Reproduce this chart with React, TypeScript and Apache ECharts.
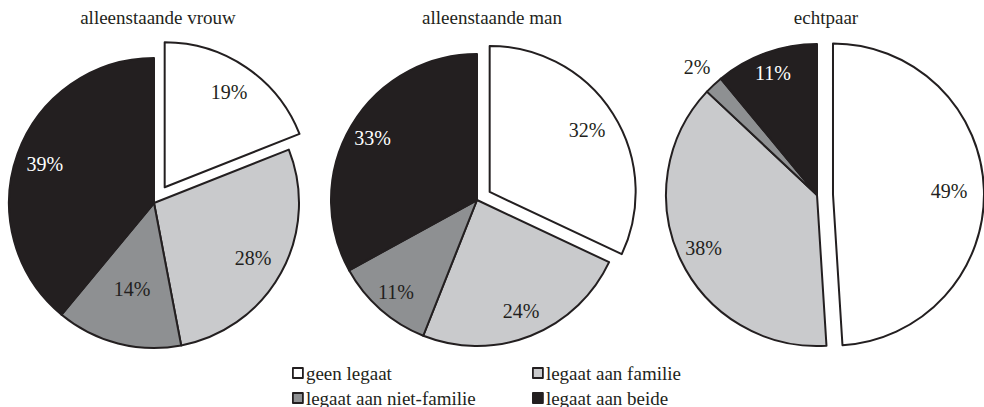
import React, { useEffect, useRef } from 'react';
import * as echarts from 'echarts';

const categories = ['geen legaat', 'legaat aan familie', 'legaat aan niet-familie', 'legaat aan beide'];
const groupTitles = ['alleenstaande vrouw', 'alleenstaande man', 'echtpaar'];
const vrouwValues = [19, 28, 14, 39];
const manValues = [32, 24, 11, 33];
const echtpaarValues = [49, 38, 2, 11];
const legendColumn1 = ['geen legaat', 'legaat aan niet-familie'];
const legendColumn2 = ['legaat aan familie', 'legaat aan beide'];

const COLORS = ['#ffffff', '#c9cacc', '#8e9092', '#231f20'];
const LABEL_COLORS = ['#231f20', '#231f20', '#231f20', '#ffffff'];
const INK = '#231f20';
const FONT = "'Liberation Serif', 'DejaVu Serif', serif";

const PIES = [
  { values: vrouwValues, center: [154, 203], r: 145, offset: 19, titleX: 158, labelR: [0.77, 0.76, 0.59, 0.78] },
  { values: manValues, center: [477, 200], r: 146, offset: 15, titleX: 492, labelR: [0.77, 0.8, 0.82, 0.81] },
  { values: echtpaarValues, center: [817, 195], r: 151, offset: 16, titleX: 826, labelR: [0.75, 0.81, 1.14, 0.84] },
];

function buildOption() {
  const series: any[] = [];
  PIES.forEach((p) => {
    series.push({
      type: 'pie',
      center: p.center,
      radius: p.r,
      startAngle: 90,
      clockwise: true,
      selectedMode: 'multiple',
      selectedOffset: p.offset,
      silent: true,
      avoidLabelOverlap: false,
      label: { show: false },
      labelLine: { show: false },
      emphasis: { disabled: true },
      itemStyle: { borderColor: INK, borderWidth: 2 },
      data: p.values.map((v, i) => ({
        name: categories[i],
        value: v,
        selected: i === 0,
        itemStyle: { color: COLORS[i], borderColor: INK, borderWidth: 2 },
        select: { itemStyle: { color: COLORS[i], borderColor: INK, borderWidth: 2 } },
      })),
    });
    p.values.forEach((_, j) => {
      const lab = {
        show: true,
        position: 'inside',
        color: LABEL_COLORS[j],
        fontSize: 20,
        fontFamily: FONT,
        formatter: '{c}%',
      };
      series.push({
        type: 'pie',
        center: p.center,
        radius: [0, 2 * p.labelR[j] * p.r],
        startAngle: 90,
        clockwise: true,
        selectedMode: 'multiple',
        selectedOffset: p.offset,
        silent: true,
        avoidLabelOverlap: false,
        labelLine: { show: false },
        emphasis: { disabled: true },
        itemStyle: { color: 'rgba(0,0,0,0)', borderWidth: 0 },
        data: p.values.map((v, i) => ({
          name: categories[i],
          value: v,
          selected: i === 0,
          itemStyle: { color: 'rgba(0,0,0,0)', borderWidth: 0 },
          label: i === j ? lab : { show: false },
        })),
      });
    });
  });

  const legendBase = {
    orient: 'vertical',
    top: 363,
    height: 80,
    padding: 0,
    itemGap: 5,
    itemWidth: 10,
    itemHeight: 10,
    icon: 'rect',
    selectedMode: false,
    textStyle: { fontFamily: FONT, fontSize: 19, color: INK, lineHeight: 20, padding: [0, 0, 0, -2] },
  };
  const legendItem = (name: string) => ({
    name,
    itemStyle: { color: COLORS[categories.indexOf(name)], borderColor: INK, borderWidth: 1.8 },
  });

  return {
    animation: false,
    backgroundColor: '#ffffff',
    graphic: PIES.map((p, k) => ({
      type: 'text',
      x: p.titleX,
      y: 17,
      style: {
        text: groupTitles[k],
        fill: INK,
        font: `19px ${FONT}`,
        textAlign: 'center',
        textVerticalAlign: 'middle',
      },
    })),
    legend: [
      { ...legendBase, left: 292, data: legendColumn1.map(legendItem) },
      { ...legendBase, left: 532, data: legendColumn2.map(legendItem) },
    ],
    series,
  };
}

export default function App() {
  const ref = useRef<HTMLDivElement>(null);
  useEffect(() => {
    if (!ref.current) return;
    const chart = echarts.init(ref.current, undefined, { renderer: 'svg' });
    chart.setOption(buildOption() as any);
    return () => chart.dispose();
  }, []);
  return (
    <div
      ref={ref}
      style={{ position: 'fixed', left: 0, top: 0, width: 984, height: 407, background: '#fff' }}
    />
  );
}
